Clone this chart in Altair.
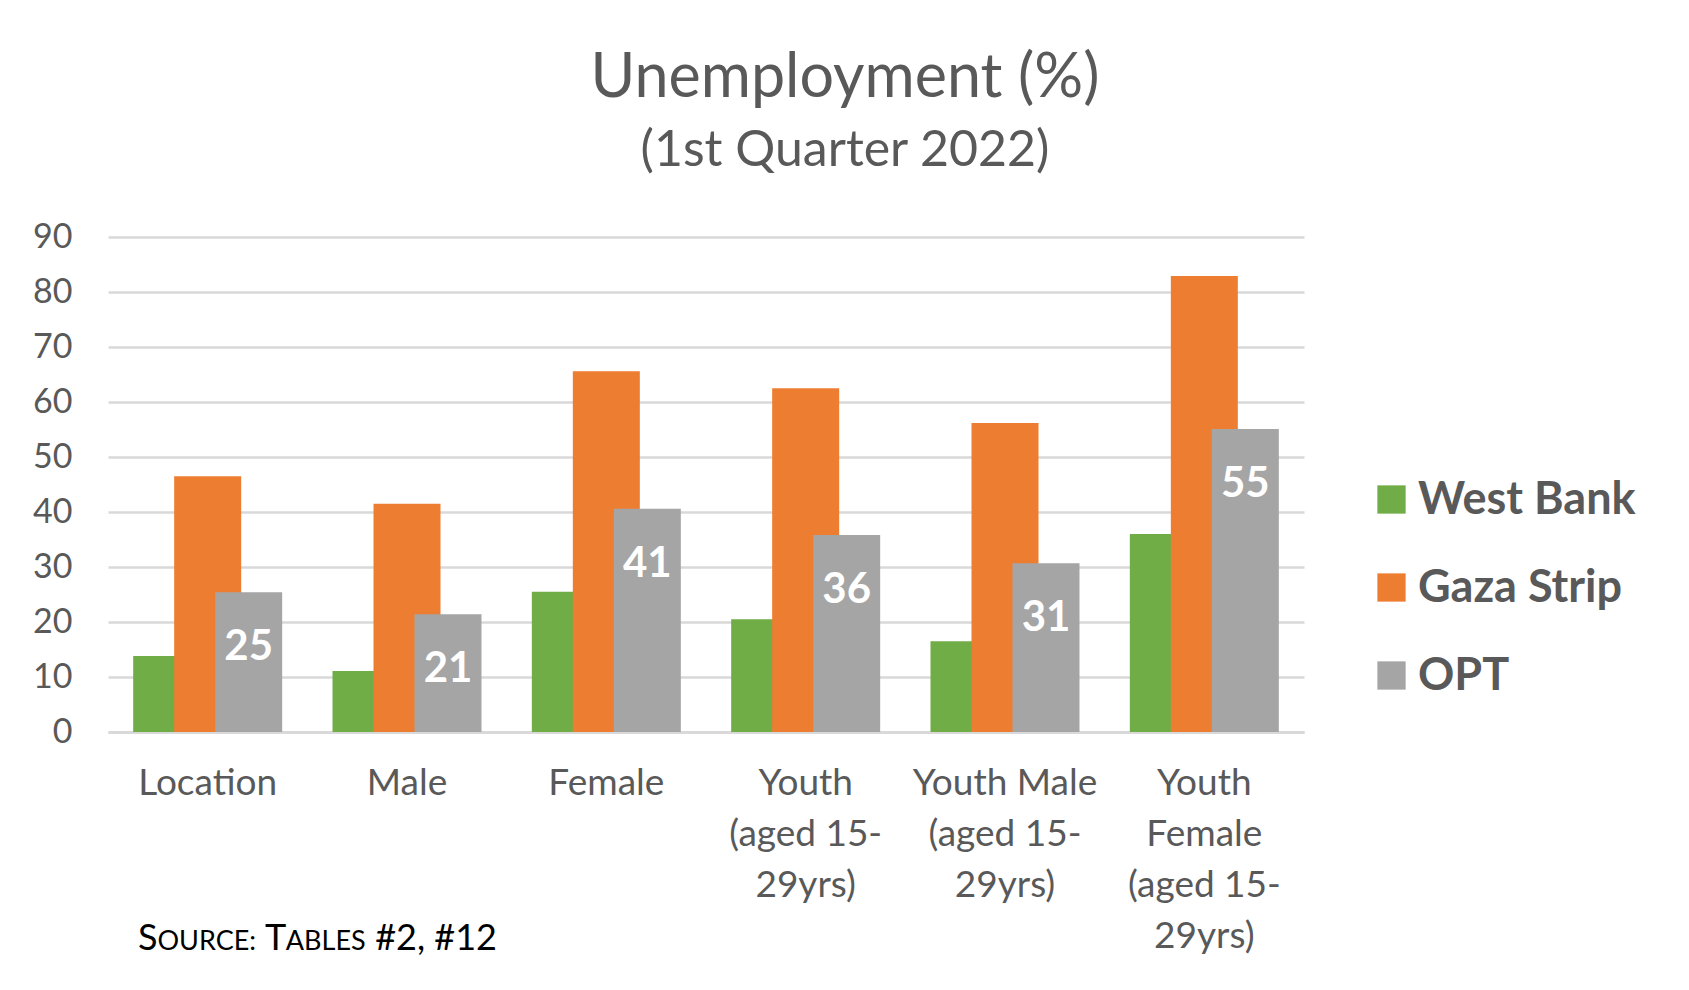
import altair as alt
import pandas as pd

# ---- data ----
categories = ["Location", "Male", "Female", "Youth|(aged 15-|29yrs)",
              "Youth Male|(aged 15-|29yrs)", "Youth|Female|(aged 15-|29yrs)"]
series = ["West Bank", "Gaza Strip", "OPT"]
west_bank = [13.8, 11.1, 25.5, 20.5, 16.5, 36.0]
gaza_strip = [46.5, 41.5, 65.6, 62.5, 56.2, 82.9]
opt = [25.4, 21.4, 40.6, 35.8, 30.7, 55.1]
colors = ["#70AD47", "#ED7D31", "#A5A5A5"]
y_ticks = [0, 10, 20, 30, 40, 50, 60, 70, 80, 90]

rows = []
for s, vals in zip(series, [west_bank, gaza_strip, opt]):
    for c, v in zip(categories, vals):
        rows.append({"category": c, "series": s, "value": v})
df = pd.DataFrame(rows)

FONT = "Lato"
TXT = "#595959"
W, H = 1196, 495
BAR_W = 67
OFFS = [-41, 0, 41]

x_enc = alt.X("category:N", sort=categories, title=None,
              scale=alt.Scale(paddingInner=0, paddingOuter=0),
              axis=alt.Axis(labelExpr="split(datum.label, '|')", labelAngle=0,
                            labelFontSize=37, labelColor=TXT, labelFont=FONT,
                            labelLineHeight=51, labelPadding=33, labelBaseline="top",
                            ticks=False, domainColor="#D9D9D9", domainWidth=3,
                            labelLimit=400, grid=False))
y_enc = alt.Y("value:Q", title=None,
              scale=alt.Scale(domain=[0, 90], nice=False),
              axis=alt.Axis(values=y_ticks, labelFontSize=34, labelColor=TXT,
                            labelFont=FONT, labelPadding=36, ticks=False, domain=False,
                            gridColor="#D9D9D9", gridWidth=2.5))
color_enc = alt.Color("series:N", sort=series,
                      scale=alt.Scale(domain=series, range=colors),
                      legend=alt.Legend(orient="none", legendX=1261, legendY=240,
                                        title=None, symbolType="square",
                                        symbolSize=800, symbolStrokeWidth=0,
                                        labelFontSize=45, labelFont=FONT,
                                        labelFontWeight="bold", labelColor=TXT,
                                        labelOffset=4, rowPadding=42, labelLimit=600))

layers = []
for s, off in zip(series, OFFS):
    layers.append(
        alt.Chart(df).transform_filter(alt.datum.series == s)
        .mark_bar(width=BAR_W, xOffset=off)
        .encode(x=x_enc, y=y_enc, color=color_enc)
    )

labels = (alt.Chart(df).transform_filter(alt.datum.series == "OPT")
          .mark_text(xOffset=41, dy=68, baseline="alphabetic", align="center",
                     color="white", font=FONT, fontWeight="bold", fontSize=42)
          .encode(x=alt.X("category:N", sort=categories), y="value:Q",
                  text=alt.Text("value:Q", format=".0f")))

# Source note in emulated small caps
src_parts = [("S", 36), ("OURCE:", 27), ("T", 36), ("ABLES", 27), ("#2, #12", 36)]
gap_after = [0, 10, 0, 10, 0]
cw = {"S": .54, "O": .78, "U": .71, "R": .62, "C": .68, "E": .55, ":": .27, " ": .26,
      "T": .58, "A": .70, "B": .64, "L": .51, "#": .58, "2": .58, "1": .58, ",": .22}
src_rows = []
xpos = 30
for (t, fs), g in zip(src_parts, gap_after):
    src_rows.append({"t": t, "fs": fs, "x": xpos})
    xpos += sum(cw.get(ch, .58) for ch in t) * fs + g
src_df = pd.DataFrame(src_rows)
source = (alt.Chart(src_df).mark_text(align="left", baseline="alphabetic",
                                      color="black", font=FONT)
          .encode(x=alt.X("x:Q", scale=None), y=alt.value(713), text="t:N",
                  size=alt.Size("fs:Q", scale=None, legend=None)))

chart = alt.layer(*layers, labels, source).properties(
    width=W, height=H,
    autosize=alt.AutoSizeParams(type="none"),
    padding={"left": 100, "top": 229, "right": 377, "bottom": 250},
    title=alt.TitleParams(text="Unemployment (%)", subtitle="(1st Quarter 2022)",
                          font=FONT, fontSize=61, fontWeight="normal", color=TXT,
                          subtitleFont=FONT, subtitleFontSize=50, subtitleColor=TXT,
                          subtitlePadding=16, anchor="middle", dx=139, offset=43),
).configure(background="white").configure_view(stroke=None)

chart.save("out.html", embed_options={"renderer": "svg", "actions": False})
